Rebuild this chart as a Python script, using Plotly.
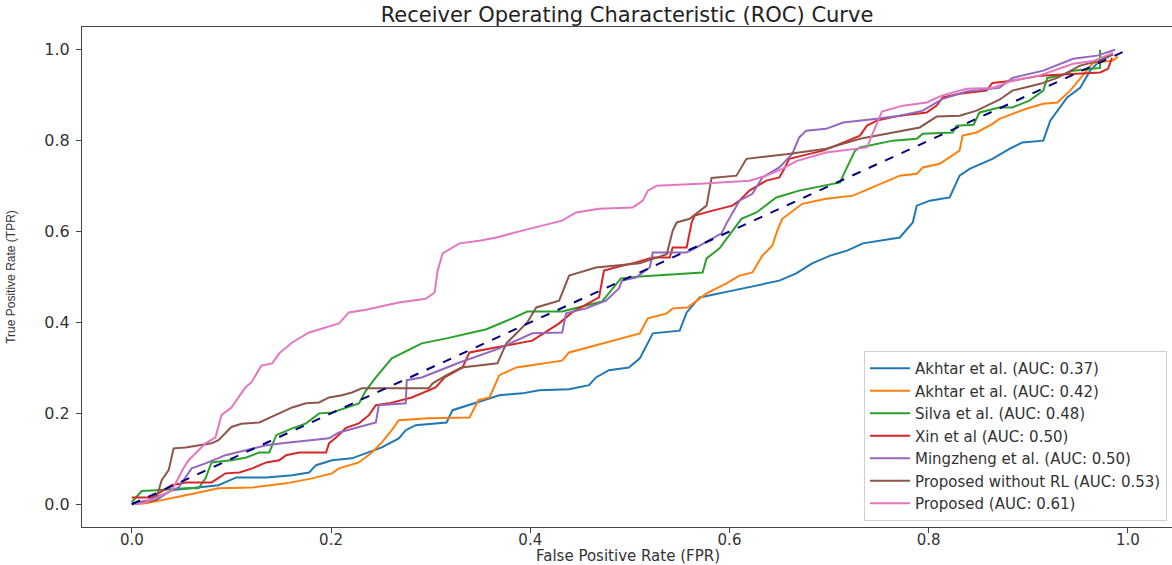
import plotly.graph_objects as go

# ---------------- data ----------------
labels = [
    "Akhtar et al. (AUC: 0.37)",
    "Akhtar et al. (AUC: 0.42)",
    "Silva et al. (AUC: 0.48)",
    "Xin et al (AUC: 0.50)",
    "Mingzheng et al. (AUC: 0.50)",
    "Proposed without RL (AUC: 0.53)",
    "Proposed (AUC: 0.61)",
]

akhtar1_fpr = [0, 0.024, 0.04, 0.06, 0.087, 0.105, 0.135, 0.161, 0.178, 0.185, 0.201, 0.221, 0.235, 0.251,
               0.268, 0.275, 0.285, 0.316, 0.322, 0.352, 0.369, 0.392, 0.409, 0.439, 0.459, 0.466, 0.479,
               0.499, 0.51, 0.523, 0.55, 0.557, 0.57, 0.603, 0.637, 0.65, 0.667, 0.683, 0.701, 0.718, 0.734,
               0.751, 0.771, 0.784, 0.788, 0.801, 0.821, 0.831, 0.841, 0.864, 0.881, 0.894, 0.915, 0.922,
               0.929, 0.939, 0.952, 0.962, 0.972, 0.985]
akhtar1_tpr = [0.002, 0.009, 0.031, 0.035, 0.042, 0.059, 0.059, 0.064, 0.07, 0.086, 0.097, 0.101, 0.112, 0.125,
               0.145, 0.163, 0.174, 0.18, 0.207, 0.229, 0.24, 0.244, 0.251, 0.253, 0.262, 0.279, 0.295,
               0.301, 0.321, 0.376, 0.382, 0.422, 0.455, 0.47, 0.486, 0.492, 0.508, 0.53, 0.547, 0.558, 0.574,
               0.58, 0.587, 0.62, 0.657, 0.668, 0.675, 0.723, 0.738, 0.76, 0.782, 0.796, 0.8, 0.844,
               0.866, 0.895, 0.916, 0.954, 0.976, 0.99]

akhtar2_fpr = [0, 0.014, 0.054, 0.067, 0.087, 0.121, 0.155, 0.181, 0.201, 0.208, 0.228, 0.241, 0.251, 0.261,
               0.268, 0.298, 0.339, 0.348, 0.359, 0.369, 0.386, 0.432, 0.439, 0.51, 0.518, 0.537, 0.543, 0.558,
               0.57, 0.577, 0.597, 0.61, 0.623, 0.633, 0.643, 0.648, 0.653, 0.673, 0.697, 0.724, 0.741, 0.771,
               0.788, 0.794, 0.811, 0.831, 0.834, 0.848, 0.864, 0.871, 0.884, 0.898, 0.915, 0.929, 0.942,
               0.959, 0.965, 0.985, 0.99]
akhtar2_tpr = [0, 0.002, 0.02, 0.026, 0.035, 0.037, 0.046, 0.057, 0.068, 0.079, 0.092, 0.114, 0.136, 0.163,
               0.185, 0.189, 0.191, 0.229, 0.235, 0.284, 0.301, 0.316, 0.334, 0.376, 0.409, 0.42, 0.431, 0.433,
               0.453, 0.464, 0.486, 0.503, 0.51, 0.547, 0.569, 0.602, 0.628, 0.661, 0.672, 0.679, 0.695, 0.723,
               0.727, 0.741, 0.749, 0.778, 0.811, 0.818, 0.837, 0.848, 0.859, 0.87, 0.881, 0.884, 0.91,
               0.954, 0.971, 0.976, 0.985]

silva_fpr = [0, 0.01, 0.024, 0.054, 0.067, 0.074, 0.08, 0.1, 0.115, 0.128, 0.138, 0.145, 0.161, 0.175, 0.188,
             0.201, 0.228, 0.235, 0.245, 0.261, 0.281, 0.291, 0.316, 0.356, 0.382, 0.397, 0.432, 0.472, 0.491,
             0.51, 0.573, 0.577, 0.59, 0.603, 0.612, 0.627, 0.643, 0.647, 0.67, 0.711, 0.714, 0.726, 0.731,
             0.764, 0.788, 0.794, 0.824, 0.828, 0.845, 0.851, 0.871, 0.884, 0.901, 0.915, 0.919, 0.932, 0.945,
             0.965, 0.972, 0.972]
silva_tpr = [0.005, 0.029, 0.031, 0.035, 0.035, 0.057, 0.092, 0.097, 0.103, 0.114, 0.114, 0.152, 0.167, 0.178, 0.2,
             0.202, 0.222, 0.25, 0.279, 0.321, 0.343, 0.354, 0.365, 0.385, 0.409, 0.424, 0.424, 0.446, 0.497,
             0.501, 0.51, 0.541, 0.563, 0.602, 0.628, 0.642, 0.668, 0.675, 0.69, 0.708, 0.723, 0.778, 0.785,
             0.8, 0.804, 0.815, 0.818, 0.833, 0.835, 0.862, 0.873, 0.873, 0.888, 0.91, 0.938, 0.943, 0.954,
             0.958, 0.96, 1.0]

xin_fpr = [0, 0.02, 0.04, 0.054, 0.08, 0.094, 0.108, 0.121, 0.135, 0.148, 0.155, 0.168, 0.195, 0.198, 0.205,
           0.215, 0.228, 0.238, 0.245, 0.258, 0.281, 0.305, 0.314, 0.332, 0.339, 0.369, 0.402, 0.429, 0.442,
           0.469, 0.474, 0.489, 0.506, 0.523, 0.54, 0.543, 0.557, 0.562, 0.565, 0.583, 0.603, 0.61, 0.62, 0.637,
           0.65, 0.655, 0.66, 0.673, 0.694, 0.711, 0.731, 0.738, 0.748, 0.771, 0.798, 0.808, 0.814, 0.831,
           0.858, 0.864, 0.884, 0.912, 0.945, 0.972, 0.98, 0.984]
xin_tpr = [0.015, 0.015, 0.042, 0.048, 0.048, 0.068, 0.07, 0.079, 0.092, 0.097, 0.108, 0.114, 0.114, 0.134, 0.147,
           0.168, 0.178, 0.196, 0.218, 0.222, 0.235, 0.257, 0.279, 0.301, 0.334, 0.347, 0.36, 0.398, 0.422,
           0.455, 0.514, 0.523, 0.532, 0.543, 0.543, 0.565, 0.565, 0.62, 0.635, 0.646, 0.657, 0.668, 0.69, 0.712,
           0.719, 0.738, 0.76, 0.767, 0.778, 0.793, 0.811, 0.833, 0.844, 0.855, 0.862, 0.877, 0.895, 0.903,
           0.91, 0.927, 0.932, 0.943, 0.947, 0.95, 0.958, 0.982]

ming_fpr = [0, 0.017, 0.034, 0.047, 0.06, 0.074, 0.094, 0.115, 0.135, 0.151, 0.198, 0.208, 0.228, 0.245, 0.248,
            0.275, 0.276, 0.291, 0.329, 0.349, 0.369, 0.402, 0.432, 0.436, 0.456, 0.476, 0.489, 0.492, 0.506,
            0.52, 0.523, 0.543, 0.557, 0.567, 0.592, 0.597, 0.61, 0.623, 0.633, 0.65, 0.663, 0.67, 0.677,
            0.697, 0.714, 0.748, 0.771, 0.794, 0.814, 0.838, 0.871, 0.884, 0.915, 0.945, 0.969, 0.987]
ming_tpr = [0.002, 0.009, 0.024, 0.037, 0.079, 0.09, 0.108, 0.119, 0.13, 0.134, 0.145, 0.158, 0.17, 0.18, 0.218,
            0.222, 0.273, 0.279, 0.312, 0.327, 0.343, 0.376, 0.378, 0.42, 0.431, 0.448, 0.475, 0.492, 0.499,
            0.521, 0.554, 0.554, 0.554, 0.565, 0.596, 0.618, 0.668, 0.683, 0.719, 0.741, 0.771, 0.807, 0.822,
            0.826, 0.84, 0.848, 0.855, 0.866, 0.892, 0.908, 0.916, 0.938, 0.954, 0.98, 0.987, 1.0]

norl_fpr = [0, 0.024, 0.03, 0.037, 0.042, 0.054, 0.08, 0.087, 0.1, 0.11, 0.128, 0.151, 0.161, 0.175, 0.188,
            0.198, 0.211, 0.221, 0.231, 0.298, 0.302, 0.316, 0.331, 0.367, 0.376, 0.397, 0.406, 0.429, 0.439,
            0.466, 0.489, 0.51, 0.537, 0.543, 0.547, 0.56, 0.577, 0.582, 0.607, 0.617, 0.657, 0.697, 0.731,
            0.764, 0.791, 0.808, 0.831, 0.848, 0.871, 0.884, 0.912, 0.929, 0.952, 0.972, 0.985]
norl_tpr = [0, 0.009, 0.053, 0.075, 0.123, 0.125, 0.134, 0.141, 0.17, 0.177, 0.18, 0.202, 0.213, 0.222, 0.224,
            0.235, 0.24, 0.246, 0.255, 0.255, 0.266, 0.284, 0.301, 0.31, 0.354, 0.4, 0.433, 0.448, 0.503,
            0.521, 0.525, 0.53, 0.55, 0.602, 0.62, 0.628, 0.657, 0.718, 0.723, 0.76, 0.77, 0.782, 0.804,
            0.818, 0.829, 0.853, 0.855, 0.866, 0.89, 0.91, 0.925, 0.938, 0.965, 0.976, 0.99]

prop_fpr = [0, 0.01, 0.024, 0.04, 0.052, 0.057, 0.074, 0.084, 0.09, 0.1, 0.114, 0.12, 0.13, 0.141, 0.148, 0.161,
            0.178, 0.195, 0.208, 0.218, 0.235, 0.268, 0.281, 0.295, 0.304, 0.307, 0.312, 0.329, 0.349, 0.366,
            0.392, 0.432, 0.446, 0.469, 0.503, 0.513, 0.518, 0.527, 0.57, 0.62, 0.637, 0.653, 0.667, 0.697,
            0.738, 0.744, 0.753, 0.774, 0.798, 0.813, 0.838, 0.864, 0.884, 0.911, 0.945, 0.965, 0.985]
prop_tpr = [0, 0.002, 0.013, 0.03, 0.08, 0.097, 0.134, 0.147, 0.196, 0.213, 0.257, 0.268, 0.305, 0.31, 0.332, 0.356,
            0.378, 0.389, 0.398, 0.422, 0.428, 0.444, 0.448, 0.452, 0.466, 0.514, 0.552, 0.574, 0.58, 0.587,
            0.602, 0.624, 0.642, 0.65, 0.653, 0.668, 0.69, 0.701, 0.705, 0.712, 0.723, 0.738, 0.755, 0.774,
            0.785, 0.815, 0.864, 0.877, 0.884, 0.899, 0.914, 0.916, 0.932, 0.943, 0.969, 0.975, 0.993]

chance_fpr = [0, 1]
chance_tpr = [0, 1]

x_ticks = [0.0, 0.2, 0.4, 0.6, 0.8, 1.0]
y_ticks = [0.0, 0.2, 0.4, 0.6, 0.8, 1.0]

# ---------------- styling ----------------
colors = ["#1f77b4", "#ff7f0e", "#2ca02c", "#d62728", "#9467bd", "#8c564b", "#e377c2"]
series = [
    (akhtar1_fpr, akhtar1_tpr),
    (akhtar2_fpr, akhtar2_tpr),
    (silva_fpr, silva_tpr),
    (xin_fpr, xin_tpr),
    (ming_fpr, ming_tpr),
    (norl_fpr, norl_tpr),
    (prop_fpr, prop_tpr),
]

FONT = "DejaVu Sans, Verdana, sans-serif"
W, H = 1172, 565
L, R, T, B = 82, 0, 27, 38
PW, PH = W - L - R, H - T - B

fig = go.Figure()
for (fx, ty), name, c in zip(series, labels, colors):
    fig.add_trace(go.Scatter(x=fx, y=ty, mode="lines", name=name,
                             line=dict(color=c, width=2)))
fig.add_trace(go.Scatter(x=chance_fpr, y=chance_tpr, mode="lines", showlegend=False,
                         line=dict(color="#000080", width=2, dash="dash")))

# visible right edge of the (cropped) axes in data units: x=0 at px 133, 1 unit = 995 px
x_right = (W - 133) / 995.0

fig.update_layout(
    width=W, height=H,
    margin=dict(l=L, r=R, t=T, b=B, autoexpand=False),
    paper_bgcolor="white", plot_bgcolor="white",
    font=dict(family=FONT, color="#333333", size=15),
    title=dict(text="Receiver Operating Characteristic (ROC) Curve",
               x=(L + (W - R)) / 2 / W, xanchor="center",
               y=1 - 15 / H, yanchor="middle", yref="container",
               font=dict(family=FONT, size=21, color="#222222")),
    legend=dict(x=(1167 - L) / PW, y=(527 - 521) / PH,
                xanchor="right", yanchor="bottom",
                bgcolor="rgba(255,255,255,0.85)", bordercolor="#d0d0d0", borderwidth=1,
                font=dict(family=FONT, size=15, color="#333333"),
                tracegroupgap=0, itemwidth=40),
    showlegend=True,
    annotations=[dict(text="False Positive Rate (FPR)", xref="paper", yref="paper",
                      x=(628 - L) / PW, y=-(556 - 527) / PH, xanchor="center", yanchor="middle",
                      showarrow=False, font=dict(family=FONT, size=15, color="#333333"))],
)
fig.update_xaxes(range=[-0.05, x_right], tickvals=x_ticks, tickformat=".1f",
                 showgrid=False, zeroline=False,
                 showline=True, linecolor="#444444", linewidth=1, mirror=True,
                 ticks="outside", ticklen=5, tickcolor="#444444", ticklabelstandoff=-6,
                 tickfont=dict(family=FONT, size=15, color="#333333"),
                 automargin=False)
fig.update_yaxes(range=[-0.05, 1.05], tickvals=y_ticks, tickformat=".1f",
                 showgrid=False, zeroline=False,
                 showline=True, linecolor="#444444", linewidth=1, mirror=False,
                 ticks="outside", ticklen=5, tickcolor="#444444", ticklabelstandoff=3,
                 tickfont=dict(family=FONT, size=16, color="#333333"),
                 title=dict(text="True Positive Rate (TPR)", standoff=26,
                            font=dict(family="Liberation Sans Narrow, Liberation Sans, Arial, sans-serif",
                                      size=12, color="#333333")),
                 automargin=False)

fig.write_html("out.html")
